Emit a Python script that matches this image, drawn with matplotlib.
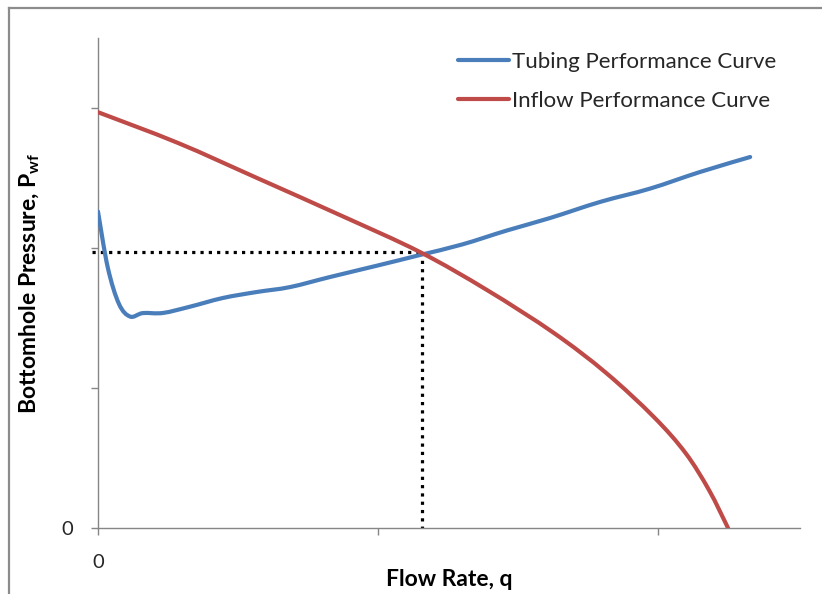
import numpy as np
import matplotlib
matplotlib.use('Agg')
import matplotlib.pyplot as plt
from matplotlib.lines import Line2D
from matplotlib.path import Path
from matplotlib.patches import PathPatch
from matplotlib.ticker import FixedLocator, FixedFormatter

plt.rcParams['font.family'] = ['Lato', 'DejaVu Sans']
plt.rcParams['mathtext.fontset'] = 'custom'
plt.rcParams['mathtext.rm'] = 'Lato'
plt.rcParams['mathtext.bf'] = 'Lato:bold'

# tubing performance curve (flow rate, pressure)
tpr_q = [0.0, 0.035, 0.075, 0.115, 0.16, 0.232, 0.329, 0.446, 0.568, 0.686,
         0.829, 1.007, 1.150, 1.300, 1.460, 1.614, 1.793, 1.971, 2.150, 2.329]
tpr_p = [2.26, 1.86, 1.60, 1.51, 1.535, 1.536, 1.581, 1.643, 1.686, 1.721,
         1.793, 1.879, 1.950, 2.025, 2.125, 2.214, 2.329, 2.424, 2.543, 2.650]

# inflow performance curve
ipr_q = [0.0, 0.286, 0.568, 0.87, 1.15, 1.389, 1.628, 1.815, 1.985, 2.098, 2.182, 2.25]
ipr_p = [2.97, 2.75, 2.50, 2.23, 1.971, 1.70, 1.393, 1.107, 0.793, 0.536, 0.271, 0.0]

# operating point
op_q = 1.157
op_p = 1.971

series_names = ['Tubing Performance Curve', 'Inflow Performance Curve']
y_ticks = [0, 1, 2, 3]
y_ticklabels = ['0', '', '', '']
x_ticks = [0, 1, 2]
x_ticklabels = ['0', '', '']

blue = '#4A7EBB'
red = '#BE4B48'
grey = '#868686'

#smoothed line like the spreadsheet one (catmull-rom as bezier segments)
def smooth_path(xs, ys):
	pts = np.column_stack([xs, ys]).astype(float)
	n = len(pts)
	verts = [pts[0]]
	codes = [Path.MOVETO]
	for i in range(n-1):
		p0 = pts[i-1] if i > 0 else pts[i]
		p1 = pts[i]
		p2 = pts[i+1]
		p3 = pts[i+2] if i+2 < n else pts[i+1]
		verts += [p1 + (p2-p0)/6.0, p2 - (p3-p1)/6.0, p2]
		codes += [Path.CURVE4]*3
	return Path(verts, codes)

fig = plt.figure(figsize=(8.22, 5.94), dpi=100)
ax = fig.add_axes([98/822, 1-528/594, (800-98)/822, (528-38)/594])

ax.add_patch(PathPatch(smooth_path(tpr_q, tpr_p), fill=False, edgecolor=blue, lw=3.0,
                       capstyle='round', joinstyle='round', zorder=3))
ax.add_patch(PathPatch(smooth_path(ipr_q, ipr_p), fill=False, edgecolor=red, lw=3.0,
                       capstyle='round', joinstyle='round', zorder=3))
# legend proxies
ax.plot([], [], color=blue, lw=3.0, solid_capstyle='round', label=series_names[0])
ax.plot([], [], color=red, lw=3.0, solid_capstyle='round', label=series_names[1])

#dotted guide lines to the operating point
ax.plot([-0.022, op_q], [op_p, op_p], color='black', lw=2.3, ls=(0, (1.0, 1.6)),
        dash_capstyle='butt', clip_on=False, zorder=2)
ax.plot([op_q, op_q], [op_p, 0], color='black', lw=2.3, ls=(0, (1.0, 1.6)),
        dash_capstyle='butt', zorder=2)

ax.set_xlim(0, 2.507)
ax.set_ylim(0, 3.5)
ax.xaxis.set_major_locator(FixedLocator(x_ticks))
ax.xaxis.set_major_formatter(FixedFormatter(x_ticklabels))
ax.yaxis.set_major_locator(FixedLocator(y_ticks))
ax.yaxis.set_major_formatter(FixedFormatter(y_ticklabels))

for s in ['top', 'right']:
	ax.spines[s].set_visible(False)
for s in ['left', 'bottom']:
	ax.spines[s].set_color(grey)
	ax.spines[s].set_linewidth(1.0)
ax.tick_params(axis='both', direction='out', length=5, width=1.0, color=grey,
               labelsize=14.5, labelcolor='#262626')
ax.tick_params(axis='y', pad=13)
ax.tick_params(axis='x', pad=14)

fig.text(449/822, 1-580/594, 'Flow Rate, q', fontsize=16.5, fontweight='bold',
         ha='center', va='center')
fig.text(30/822, 1-283/594, r'Bottomhole Pressure, $\mathbf{P_{wf}}$', fontsize=16.5,
         fontweight='bold', rotation=90, ha='center', va='center')

leg = ax.legend(loc='upper left', bbox_to_anchor=(447/822, 1-41/594), bbox_transform=fig.transFigure,
                frameon=False, fontsize=16, handlelength=2.3, handletextpad=0.12,
                labelspacing=0.83, borderpad=0)
for t in leg.get_texts():
	t.set_color('#262626')

#chart border (cropped)
fig.add_artist(Line2D([9/822, 9/822], [0, 1-8/594], transform=fig.transFigure, color='#8c8c8c', lw=1.6))
fig.add_artist(Line2D([9/822, 1], [1-8/594, 1-8/594], transform=fig.transFigure, color='#8c8c8c', lw=1.6))

fig.savefig('out.png', dpi=100)
